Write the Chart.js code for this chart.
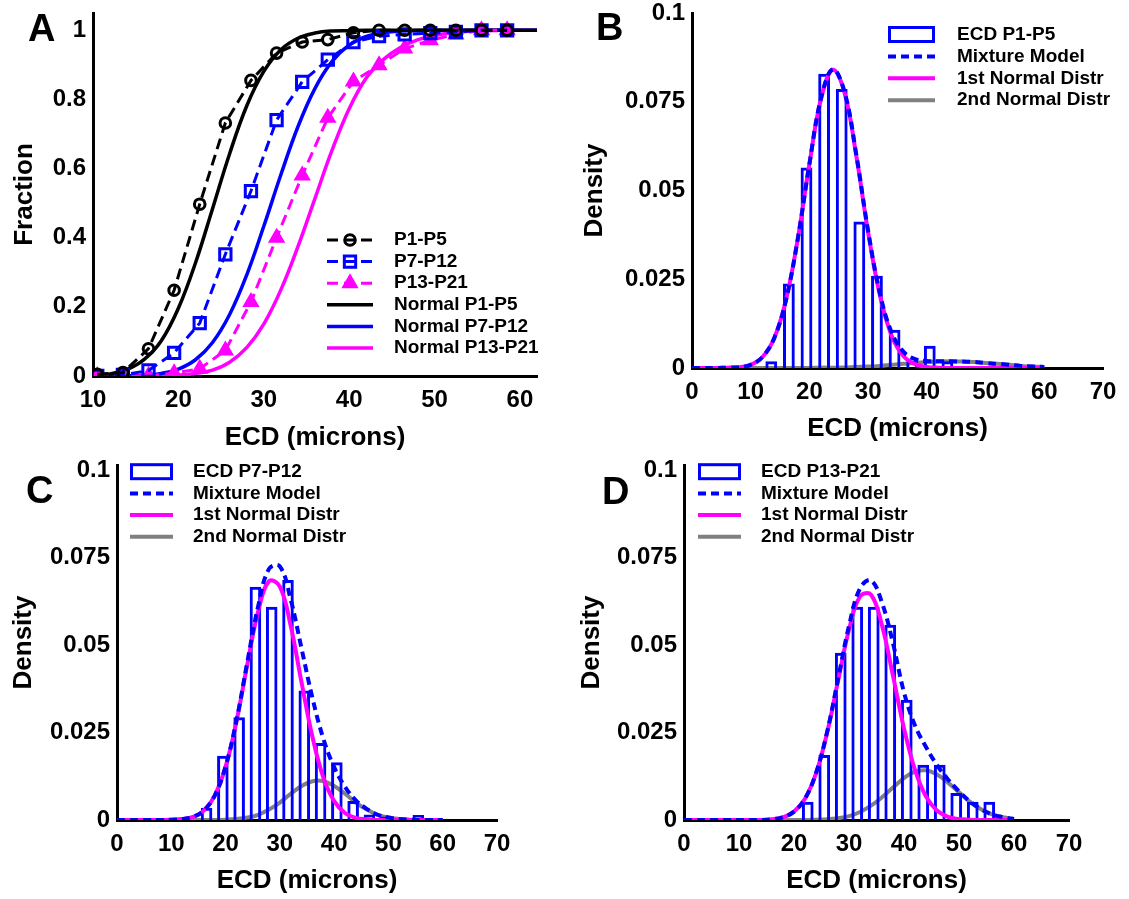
<!DOCTYPE html>
<html>
<head>
<meta charset="utf-8">
<script src="https://cdn.jsdelivr.net/npm/chart.js@4.4.1/dist/chart.umd.min.js"></script>
<style>
    body { margin: 0; background: #fff; width: 1129px; height: 899px; position: relative; overflow: hidden; font-family: "Liberation Sans", Arial, sans-serif; }
    .panel { position: absolute; }
    .letter { position: absolute; font-weight: bold; font-size: 38px; line-height: 38px; color: #000; }
</style>
</head>
<body>
<div class="panel" style="left:0;top:0"><canvas id="chartA" width="565" height="455"></canvas></div>
<div class="panel" style="left:565px;top:0"><canvas id="chartB" width="564" height="455"></canvas></div>
<div class="panel" style="left:0;top:450px"><canvas id="chartC" width="565" height="449"></canvas></div>
<div class="panel" style="left:565px;top:450px"><canvas id="chartD" width="564" height="449"></canvas></div>
<div class="letter" style="left:28px;top:9px">A</div>
<div class="letter" style="left:596px;top:8px">B</div>
<div class="letter" style="left:26px;top:471px">C</div>
<div class="letter" style="left:602px;top:472px">D</div>
<script>
// panel A: cumulative fractions
const cdfX = [10.5, 13.5, 16.5, 19.5, 22.5, 25.5, 28.5, 31.5, 34.5, 37.5, 40.5, 43.5, 46.5, 49.5, 52.5, 55.5, 58.5];
const cdfP1P5 = [0.005, 0.01, 0.079, 0.248, 0.497, 0.732, 0.855, 0.934, 0.966, 0.973, 0.993, 1, 1, 1, 1, 1, 1];
const cdfP7P12 = [0, 0.003, 0.016, 0.067, 0.153, 0.352, 0.535, 0.740, 0.851, 0.915, 0.966, 0.983, 0.988, 0.992, 0.995, 1, 1];
const cdfP13P21 = [0, 0, 0.001, 0.008, 0.021, 0.074, 0.214, 0.400, 0.580, 0.747, 0.852, 0.899, 0.947, 0.971, 0.988, 1, 1];

const normX = [10, 12, 14, 16, 18, 20, 22, 24, 26, 28, 30, 32, 34, 36, 38, 40, 42, 44, 46, 48, 50, 52, 54, 56, 58, 60, 62];
const normP1P5 = [0.002, 0.006, 0.019, 0.048, 0.102, 0.196, 0.327, 0.484, 0.643, 0.781, 0.881, 0.944, 0.977, 0.992, 0.998, 0.999, 1, 1, 1, 1, 1, 1, 1, 1, 1, 1, 1];
const normP7P12 = [0, 0.0002, 0.001, 0.0025, 0.0075, 0.020, 0.047, 0.097, 0.178, 0.292, 0.433, 0.582, 0.721, 0.832, 0.910, 0.957, 0.982, 0.993, 0.998, 0.999, 1, 1, 1, 1, 1, 1, 1];
const normP13P21 = [0, 0, 0, 0.0002, 0.0007, 0.0024, 0.007, 0.017, 0.040, 0.082, 0.150, 0.249, 0.374, 0.514, 0.653, 0.773, 0.862, 0.915, 0.950, 0.972, 0.985, 0.993, 0.997, 0.999, 1, 1, 1];

const fracTicks = [0, 0.2, 0.4, 0.6, 0.8, 1];
const ecdTicksA = [10, 20, 30, 40, 50, 60];

// panels B-D: histograms and fitted densities
const densTicks = [0, 0.025, 0.05, 0.075, 0.1];
const ecdTicks = [0, 10, 20, 30, 40, 50, 60, 70];
const densX = [0, 2, 4, 6, 8, 10, 12, 14, 16, 18, 20, 22, 24, 26, 28, 30, 32, 34, 36, 38, 40, 42, 44, 46, 48, 50, 52, 54, 56, 58, 60];

const binsB = [13.5, 16.5, 19.5, 22.5, 25.5, 28.5, 31.5, 34.5, 37.5, 40.5, 43.5];
const histB = [0.0019, 0.0238, 0.0565, 0.0829, 0.0786, 0.0413, 0.026, 0.0108, 0.002, 0.0063, 0.0019];
const mixB = [0, 0, 0, 0.0001, 0.0002, 0.0009, 0.0031, 0.0084, 0.0191, 0.0362, 0.0575, 0.0761, 0.0841, 0.0776, 0.0599, 0.0386, 0.0211, 0.0100, 0.0046, 0.0025, 0.0020, 0.0019, 0.0019, 0.0018, 0.0017, 0.0014, 0.0012, 0.0009, 0.0006, 0.0004, 0.0003];
const firstB = [0, 0, 0, 0.0001, 0.0002, 0.0009, 0.0031, 0.0084, 0.0191, 0.0362, 0.0575, 0.0760, 0.0840, 0.0774, 0.0596, 0.0382, 0.0205, 0.0091, 0.0034, 0.0011, 0.0003, 0.0001, 0, 0, 0, 0, 0, 0, 0, 0, 0];
const secondB = [0, 0, 0, 0, 0, 0, 0, 0, 0, 0, 0, 0.0001, 0.0001, 0.00015, 0.0003, 0.0004, 0.0006, 0.0009, 0.0012, 0.0014, 0.0017, 0.0018, 0.0019, 0.0018, 0.0017, 0.0014, 0.0012, 0.0009, 0.0006, 0.0004, 0.0003];

const binsC = [16.5, 19.5, 22.5, 25.5, 28.5, 31.5, 34.5, 37.5, 40.5, 43.5, 46.5, 49.5, 52.5, 55.5];
const histC = [0.0035, 0.0184, 0.0294, 0.0667, 0.061, 0.0686, 0.037, 0.022, 0.0165, 0.0054, 0.0016, 0.001, 0, 0.0014];
const mixC = [0, 0, 0, 0, 0, 0.0001, 0.0003, 0.0009, 0.0027, 0.0070, 0.0153, 0.0284, 0.0451, 0.0611, 0.0718, 0.0725, 0.0630, 0.0490, 0.0349, 0.0233, 0.0151, 0.0095, 0.0056, 0.0032, 0.0015, 0.0007, 0.0003, 0.0001, 0, 0, 0];
const firstC = [0, 0, 0, 0, 0, 0.0001, 0.0003, 0.0009, 0.0027, 0.0070, 0.0152, 0.0281, 0.0444, 0.0596, 0.0683, 0.0667, 0.0555, 0.0393, 0.0238, 0.0122, 0.0054, 0.0020, 0.0006, 0.0002, 0, 0, 0, 0, 0, 0, 0];
const secondC = [0, 0, 0, 0, 0, 0, 0, 0, 0, 0, 0.0001, 0.0003, 0.0007, 0.0015, 0.0030, 0.0050, 0.0075, 0.0097, 0.0111, 0.0111, 0.0097, 0.0075, 0.0050, 0.0030, 0.0015, 0.0007, 0.0003, 0.0001, 0, 0, 0];

const binsD = [22.5, 25.5, 28.5, 31.5, 34.5, 37.5, 40.5, 43.5, 46.5, 49.5, 52.5, 55.5];
const histD = [0.0052, 0.0186, 0.0478, 0.061, 0.061, 0.0558, 0.0344, 0.0158, 0.0158, 0.0077, 0.0052, 0.0052];
const mixD = [0, 0, 0, 0, 0, 0, 0, 0, 0.0002, 0.0008, 0.0024, 0.0061, 0.0134, 0.0250, 0.0402, 0.0555, 0.0662, 0.0685, 0.0621, 0.0505, 0.0365, 0.0270, 0.0209, 0.0157, 0.0116, 0.0082, 0.0053, 0.0031, 0.0016, 0.0008, 0.0003];
const firstD = [0, 0, 0, 0, 0, 0, 0, 0, 0.0002, 0.0008, 0.0024, 0.0061, 0.0133, 0.0248, 0.0397, 0.0544, 0.0639, 0.0644, 0.0556, 0.0412, 0.0262, 0.0143, 0.0067, 0.0027, 0.0009, 0.0003, 0.0001, 0, 0, 0, 0];
const secondD = [0, 0, 0, 0, 0, 0, 0, 0, 0, 0, 0, 0, 0.0001, 0.0002, 0.0005, 0.0011, 0.0023, 0.0041, 0.0065, 0.0093, 0.0120, 0.0138, 0.0142, 0.0130, 0.0107, 0.0079, 0.0052, 0.0031, 0.0016, 0.0008, 0.0003];

const FONT = '"Liberation Sans", Arial, Helvetica, sans-serif';
const BLUE = '#0000ff';
const MAGENTA = '#ff00ff';
const GREY = '#808080';

Chart.defaults.font.family = FONT;
Chart.defaults.font.weight = 'bold';
Chart.defaults.color = '#000';
Chart.defaults.animation = false;

const pts = (xs, ys) => xs.map((x, i) => ({ x: x, y: ys[i] }));

function drawMarker(ctx, style, x, y, r) {
    ctx.beginPath();
    if (style === 'rect') {
        const s = r * Math.SQRT1_2;
        ctx.rect(x - s, y - s, 2 * s, 2 * s);
    } else if (style === 'triangle') {
        ctx.moveTo(x, y - r);
        ctx.lineTo(x + 0.866 * r, y + 0.5 * r);
        ctx.lineTo(x - 0.866 * r, y + 0.5 * r);
        ctx.closePath();
    } else {
        ctx.arc(x, y, r, 0, Math.PI * 2);
    }
}

// legend drawn inside the plot, at fixed spots
const insideLegend = {
    id: 'insideLegend',
    afterDraw(chart, args, opts) {
        const ctx = chart.ctx;
        ctx.save();
        ctx.font = 'bold 19px ' + FONT;
        ctx.textBaseline = 'middle';
        ctx.textAlign = 'left';
        chart.data.datasets.forEach((ds, i) => {
            const y = opts.y + i * opts.rowHeight;
            const x0 = opts.x;
            const x1 = opts.x + opts.sampleWidth;
            ctx.strokeStyle = ds.borderColor;
            ctx.lineWidth = ds.borderWidth;
            if (ds.type === 'bar') {
                ctx.setLineDash([]);
                ctx.strokeRect(x0 + 1.5, y - 7, opts.sampleWidth - 3, 14);
            } else {
                ctx.setLineDash(ds.borderDash || []);
                ctx.beginPath();
                ctx.moveTo(x0, y);
                ctx.lineTo(x1, y);
                ctx.stroke();
                ctx.setLineDash([]);
                if (ds.pointRadius) {
                    drawMarker(ctx, ds.pointStyle, (x0 + x1) / 2, y, ds.pointRadius);
                    ctx.fillStyle = ds.pointBackgroundColor;
                    ctx.fill();
                    ctx.lineWidth = ds.pointBorderWidth;
                    ctx.strokeStyle = ds.pointBorderColor;
                    ctx.stroke();
                }
            }
            ctx.fillStyle = '#000';
            ctx.fillText(ds.label, opts.textX, y);
        });
        ctx.restore();
    }
};

function xAxis(min, max, ticks, height, titlePad) {
    return {
        type: 'linear', min: min, max: max, offset: false,
        grid: { display: false, drawTicks: false },
        border: { display: true, color: '#000', width: 3 },
        ticks: { autoSkip: false, maxRotation: 0, padding: 10, color: '#000', font: { size: 24, weight: 'bold' }, callback: v => String(v) },
        afterBuildTicks: s => { s.ticks = ticks.map(v => ({ value: v })); },
        afterFit: s => { s.height = height; s.paddingLeft = 0; s.paddingRight = 0; },
        title: { display: true, text: 'ECD (microns)', color: '#000', font: { size: 26, weight: 'bold' }, padding: { top: 0, bottom: titlePad } }
    };
}

function yAxis(max, ticks, width, text, titlePad) {
    return {
        type: 'linear', min: 0, max: max,
        grid: { display: false, drawTicks: false },
        border: { display: true, color: '#000', width: 3 },
        ticks: { autoSkip: false, padding: 7, color: '#000', font: { size: 24, weight: 'bold' }, callback: v => String(v) },
        afterBuildTicks: s => { s.ticks = ticks.map(v => ({ value: v })); },
        afterFit: s => { s.width = width; s.paddingTop = 0; s.paddingBottom = 0; },
        title: { display: true, text: text, color: '#000', font: { size: 26, weight: 'bold' }, padding: { top: titlePad, bottom: 0 } }
    };
}

function dashedSeries(label, color, ys, style, radius, fill, pw) {
    return {
        type: 'line', label: label, data: pts(cdfX, ys),
        borderColor: color, borderWidth: 3, borderDash: [11, 6], tension: 0,
        pointStyle: style, pointRadius: radius, pointBorderWidth: pw,
        pointBorderColor: color, pointBackgroundColor: fill
    };
}

function normalSeries(label, color, ys) {
    return {
        type: 'line', label: label, data: pts(normX, ys),
        borderColor: color, borderWidth: 3.5, tension: 0.4, pointRadius: 0
    };
}

new Chart(document.getElementById('chartA'), {
    type: 'line',
    data: {
        datasets: [
            dashedSeries('P1-P5', '#000', cdfP1P5, 'circle', 5.3, 'rgba(0,0,0,0)', 3),
            dashedSeries('P7-P12', BLUE, cdfP7P12, 'rect', 8, 'rgba(0,0,0,0)', 3),
            dashedSeries('P13-P21', MAGENTA, cdfP13P21, 'triangle', 8.5, MAGENTA, 1.5),
            normalSeries('Normal P1-P5', '#000', normP1P5),
            normalSeries('Normal P7-P12', BLUE, normP7P12),
            normalSeries('Normal P13-P21', MAGENTA, normP13P21)
        ]
    },
    options: {
        responsive: false,
        layout: { padding: { left: 0, top: 13, right: 28, bottom: 0 } },
        plugins: {
            legend: { display: false },
            tooltip: { enabled: false },
            insideLegend: { x: 327, y: 240, rowHeight: 21.6, sampleWidth: 46, textX: 394 }
        },
        scales: {
            x: xAxis(10, 62, ecdTicksA, 79, 2),
            y: yAxis(1.05, fracTicks, 93, 'Fraction', 9)
        }
    },
    plugins: [insideLegend]
});

function densityChart(id, bins, hist, mix, first, second, histLabel, barPct, pad, yWidth, xHeight, xTitlePad, yTitlePad, yMax, legend) {
    return new Chart(document.getElementById(id), {
        type: 'bar',
        data: {
            datasets: [
                {
                    type: 'bar', label: histLabel, data: pts(bins, hist), order: 2,
                    backgroundColor: 'rgba(0,0,0,0)', borderColor: BLUE, borderWidth: 3,
                    categoryPercentage: 1, barPercentage: barPct
                },
                {
                    type: 'line', label: 'Mixture Model', data: pts(densX, mix), order: 0,
                    borderColor: BLUE, borderWidth: 4, borderDash: [8, 5], tension: 0.4, pointRadius: 0
                },
                {
                    type: 'line', label: '1st Normal Distr', data: pts(densX, first), order: 1,
                    borderColor: MAGENTA, borderWidth: 4, tension: 0.4, pointRadius: 0
                },
                {
                    type: 'line', label: '2nd Normal Distr', data: pts(densX, second), order: 3,
                    borderColor: GREY, borderWidth: 4, tension: 0.4, pointRadius: 0
                }
            ]
        },
        options: {
            responsive: false,
            layout: { padding: pad },
            plugins: {
                legend: { display: false },
                tooltip: { enabled: false },
                insideLegend: legend
            },
            scales: {
                x: xAxis(0, 70, ecdTicks, xHeight, xTitlePad),
                y: yAxis(yMax, densTicks, yWidth, 'Density', yTitlePad)
            }
        },
        plugins: [insideLegend]
    });
}

densityChart('chartB', binsB, histB, mixB, firstB, secondB, 'ECD P1-P5', 0.67,
    { left: 0, top: 13, right: 26, bottom: 0 }, 127, 87, 11, 14, 0.1,
    { x: 323, y: 34.5, rowHeight: 21.9, sampleWidth: 47, textX: 392 });

densityChart('chartC', binsC, histC, mixC, firstC, secondC, 'ECD P7-P12', 0.71,
    { left: 0, top: 15, right: 68, bottom: 0 }, 117, 79, 3, 8, 0.1015,
    { x: 130, y: 21.7, rowHeight: 21.7, sampleWidth: 43, textX: 193 });

densityChart('chartD', binsD, histD, mixD, firstD, secondD, 'ECD P13-P21', 0.71,
    { left: 0, top: 15, right: 60, bottom: 0 }, 119, 79, 3, 11, 0.1015,
    { x: 133, y: 21.7, rowHeight: 21.7, sampleWidth: 43, textX: 196 });
</script>
</body>
</html>
